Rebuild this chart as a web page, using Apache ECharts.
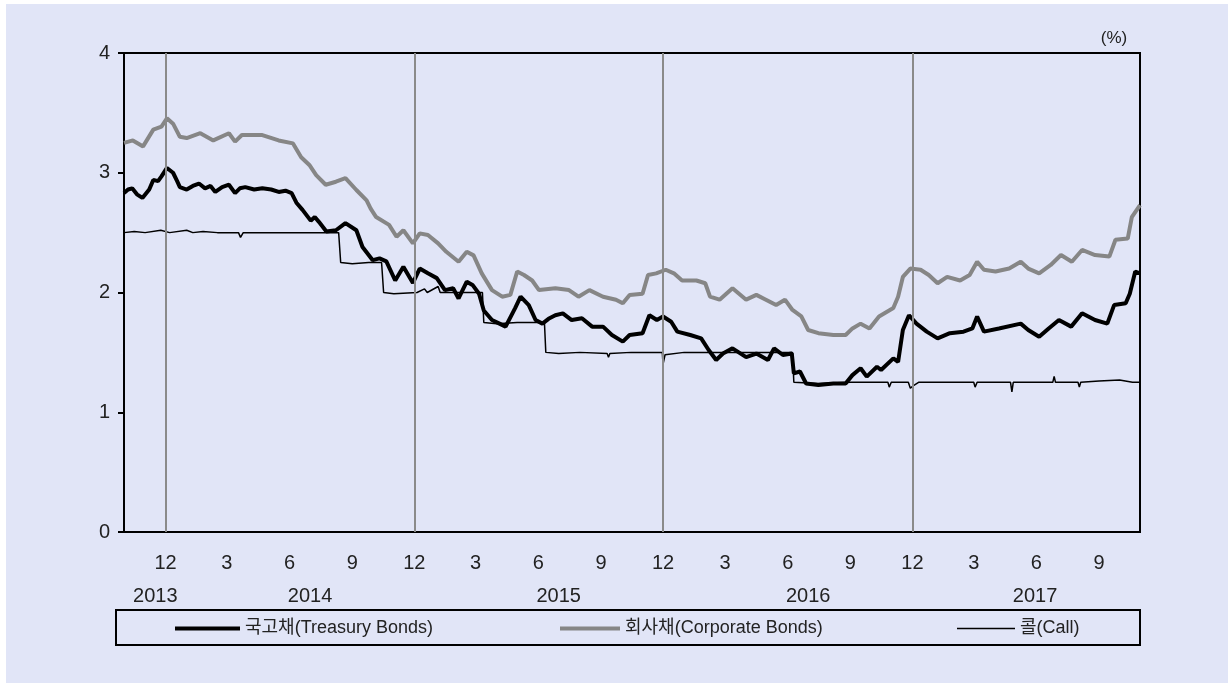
<!DOCTYPE html>
<html><head><meta charset="utf-8">
<script src="https://cdn.jsdelivr.net/npm/echarts@6/dist/echarts.min.js"></script>
<style>html,body{margin:0;padding:0;background:#fff}#c{width:1228px;height:683px}</style>
</head><body><div id="c"></div><script>
const seriesNames = ['국고채(Treasury Bonds)', '회사채(Corporate Bonds)', '콜(Call)'];
const unitLabel = '(%)';
const yTicks = [0, 1, 2, 3, 4];
const xRange = ['2013-10-01', '2017-10-31'];
const monthTickDates = ['2013-12-01','2014-03-01','2014-06-01','2014-09-01','2014-12-01','2015-03-01','2015-06-01','2015-09-01','2015-12-01','2016-03-01','2016-06-01','2016-09-01','2016-12-01','2017-03-01','2017-06-01','2017-09-01'];
const monthTickLabels = ['12','3','6','9','12','3','6','9','12','3','6','9','12','3','6','9'];
const yearLabelDates = ['2013-11-16','2014-07-01','2015-07-01','2016-07-01','2017-05-30'];
const yearLabels = ['2013','2014','2015','2016','2017'];
const decemberLines = ['2013-12-01','2014-12-01','2015-12-01','2016-12-01'];

const treasury = [
['2013-10-01',2.83],['2013-10-07',2.86],['2013-10-13',2.87],['2013-10-20',2.82],['2013-10-28',2.79],['2013-11-07',2.86],['2013-11-13',2.94],['2013-11-20',2.93],['2013-11-25',2.97],
['2013-12-03',3.04],['2013-12-12',3.00],['2013-12-18',2.93],['2013-12-22',2.88],['2014-01-01',2.86],['2014-01-10',2.89],['2014-01-19',2.91],['2014-01-28',2.87],['2014-02-05',2.89],['2014-02-12',2.84],
['2014-02-22',2.88],['2014-03-04',2.90],['2014-03-13',2.83],['2014-03-20',2.87],['2014-03-28',2.88],['2014-04-10',2.86],['2014-04-22',2.87],['2014-05-05',2.86],['2014-05-16',2.84],['2014-05-26',2.85],
['2014-06-04',2.83],['2014-06-11',2.75],['2014-06-20',2.69],['2014-07-02',2.60],['2014-07-08',2.63],['2014-07-14',2.59],['2014-07-25',2.51],['2014-08-08',2.52],['2014-08-22',2.58],['2014-09-07',2.52],
['2014-09-16',2.38],['2014-10-01',2.27],['2014-10-11',2.285],['2014-10-21',2.26],['2014-11-03',2.10],['2014-11-15',2.215],['2014-11-29',2.08],['2014-12-09',2.20],['2014-12-21',2.16],['2015-01-03',2.12],
['2015-01-15',2.02],['2015-01-27',2.035],['2015-02-04',1.95],['2015-02-16',2.09],['2015-02-25',2.06],['2015-03-06',1.99],['2015-03-13',1.85],['2015-03-25',1.77],['2015-04-05',1.74],['2015-04-14',1.715],
['2015-04-28',1.87],['2015-05-06',1.965],['2015-05-18',1.895],['2015-05-28',1.77],['2015-06-07',1.74],['2015-06-16',1.78],['2015-06-26',1.81],['2015-07-07',1.826],['2015-07-20',1.77],['2015-08-04',1.785],
['2015-08-19',1.715],['2015-09-04',1.715],['2015-09-17',1.645],['2015-10-03',1.59],['2015-10-13',1.645],['2015-11-01',1.66],['2015-11-11',1.81],['2015-11-22',1.77],['2015-12-01',1.80],['2015-12-13',1.756],
['2015-12-22',1.673],['2016-01-10',1.645],['2016-01-26',1.617],['2016-02-06',1.52],['2016-02-17',1.436],['2016-02-27',1.49],['2016-03-12',1.534],['2016-04-01',1.46],['2016-04-16',1.49],['2016-05-03',1.436],
['2016-05-12',1.534],['2016-05-25',1.478],['2016-06-07',1.49],['2016-06-10',1.325],['2016-06-19',1.34],['2016-06-28',1.24],['2016-07-16',1.228],['2016-08-07',1.24],['2016-08-25',1.24],['2016-09-04',1.31],
['2016-09-16',1.367],['2016-09-25',1.297],['2016-10-10',1.38],['2016-10-16',1.353],['2016-11-03',1.45],['2016-11-10',1.42],['2016-11-17',1.687],['2016-11-26',1.81],['2016-12-07',1.74],['2016-12-22',1.673],
['2017-01-07',1.617],['2017-01-25',1.66],['2017-02-14',1.673],['2017-02-27',1.70],['2017-03-06',1.80],['2017-03-16',1.673],['2017-04-07',1.70],['2017-05-09',1.74],['2017-05-20',1.687],['2017-06-05',1.63],
['2017-06-19',1.70],['2017-07-04',1.77],['2017-07-22',1.715],['2017-08-07',1.826],['2017-08-26',1.77],['2017-09-13',1.74],['2017-09-23',1.895],['2017-10-10',1.91],['2017-10-16',1.99],['2017-10-24',2.175],['2017-10-31',2.16]
];

const corporate = [
['2013-10-01',3.25],['2013-10-14',3.27],['2013-10-29',3.22],['2013-11-13',3.36],['2013-11-25',3.385],['2013-12-03',3.455],['2013-12-12',3.41],['2013-12-22',3.30],['2014-01-01',3.29],['2014-01-21',3.33],
['2014-02-09',3.27],['2014-03-04',3.33],['2014-03-13',3.26],['2014-03-23',3.315],['2014-04-22',3.315],['2014-05-16',3.27],['2014-06-06',3.245],['2014-06-18',3.13],['2014-06-30',3.065],['2014-07-10',2.98],
['2014-07-24',2.90],['2014-08-08',2.925],['2014-08-22',2.955],['2014-09-07',2.856],['2014-09-22',2.77],['2014-09-28',2.70],['2014-10-06',2.63],['2014-10-25',2.565],['2014-11-05',2.466],['2014-11-15',2.52],
['2014-11-29',2.41],['2014-12-09',2.494],['2014-12-21',2.48],['2015-01-05',2.41],['2015-01-17',2.34],['2015-02-04',2.257],['2015-02-16',2.34],['2015-02-26',2.31],['2015-03-10',2.16],['2015-03-25',2.02],
['2015-04-09',1.965],['2015-04-21',1.98],['2015-05-01',2.175],['2015-05-11',2.146],['2015-05-23',2.10],['2015-06-02',2.02],['2015-06-26',2.035],['2015-07-16',2.02],['2015-07-30',1.965],['2015-08-15',2.02],
['2015-09-04',1.965],['2015-09-23',1.94],['2015-10-03',1.91],['2015-10-13',1.98],['2015-11-01',1.99],['2015-11-09',2.146],['2015-11-21',2.16],['2015-12-05',2.19],['2015-12-17',2.16],['2015-12-29',2.10],
['2016-01-19',2.10],['2016-02-01',2.077],['2016-02-08',1.965],['2016-02-22',1.94],['2016-03-12',2.035],['2016-04-01',1.94],['2016-04-16',1.98],['2016-04-30',1.94],['2016-05-15',1.895],['2016-05-28',1.94],
['2016-06-08',1.854],['2016-06-21',1.80],['2016-07-01',1.687],['2016-07-16',1.66],['2016-08-07',1.645],['2016-08-25',1.645],['2016-09-04',1.70],['2016-09-16',1.74],['2016-09-29',1.70],['2016-10-13',1.80],
['2016-11-03',1.87],['2016-11-10',1.965],['2016-11-17',2.13],['2016-11-28',2.20],['2016-12-13',2.19],['2016-12-25',2.146],['2017-01-07',2.077],['2017-01-21',2.13],['2017-02-09',2.10],['2017-02-23',2.146],
['2017-03-06',2.257],['2017-03-16',2.19],['2017-04-02',2.175],['2017-04-22',2.20],['2017-05-09',2.257],['2017-05-20',2.20],['2017-06-05',2.16],['2017-06-22',2.23],['2017-07-07',2.313],['2017-07-23',2.257],
['2017-08-07',2.355],['2017-08-26',2.313],['2017-09-16',2.30],['2017-09-25',2.44],['2017-10-13',2.45],['2017-10-19',2.63],['2017-10-31',2.73]
];

const call = [
['2013-10-01',2.50],['2013-10-16',2.51],['2013-11-01',2.50],['2013-11-24',2.52],['2013-12-07',2.50],['2014-01-01',2.52],['2014-01-10',2.50],['2014-01-25',2.51],['2014-02-15',2.50],['2014-03-18',2.50],
['2014-03-21',2.46],['2014-03-25',2.50],['2014-05-01',2.50],['2014-07-01',2.50],['2014-08-12',2.50],['2014-08-15',2.25],['2014-09-01',2.24],['2014-09-25',2.25],['2014-10-14',2.25],['2014-10-17',2.00],
['2014-11-01',1.99],['2014-12-05',2.00],['2014-12-16',2.03],['2014-12-20',2.00],['2015-01-05',2.05],['2015-01-08',2.00],['2015-02-01',2.00],['2015-03-11',2.00],['2015-03-13',1.75],['2015-04-01',1.74],
['2015-05-01',1.75],['2015-06-10',1.75],['2015-06-12',1.50],['2015-07-01',1.49],['2015-08-01',1.50],['2015-09-10',1.49],['2015-09-12',1.46],['2015-09-14',1.49],['2015-10-15',1.50],['2015-11-30',1.50],
['2015-12-01',1.40],['2015-12-04',1.48],['2016-01-01',1.50],['2016-03-01',1.50],['2016-06-08',1.50],['2016-06-10',1.25],['2016-07-15',1.24],['2016-09-01',1.25],['2016-10-26',1.25],['2016-10-28',1.21],
['2016-10-31',1.25],['2016-11-25',1.25],['2016-11-28',1.20],['2016-12-02',1.22],['2016-12-10',1.25],['2017-03-01',1.25],['2017-03-03',1.21],['2017-03-06',1.25],['2017-04-24',1.25],['2017-04-26',1.17],
['2017-04-28',1.25],['2017-06-25',1.25],['2017-06-27',1.30],['2017-06-29',1.25],['2017-08-01',1.25],['2017-08-03',1.21],['2017-08-05',1.25],['2017-09-01',1.26],['2017-10-01',1.27],['2017-10-20',1.25],['2017-10-31',1.25]
];

function ts(s) { const p = s.split('-').map(Number); return Date.UTC(p[0], p[1] - 1, p[2]); }
const toPts = arr => arr.map(d => [ts(d[0]), d[1]]);
const monthMap = {}; monthTickDates.forEach((d, i) => { monthMap[ts(d)] = monthTickLabels[i]; });
const yearMap = {}; yearLabelDates.forEach((d, i) => { yearMap[ts(d)] = yearLabels[i]; });

const FONT = '"Liberation Sans", "Noto Sans CJK KR", sans-serif';
const TXT = '#222';
const chart = echarts.init(document.getElementById('c'), null, { renderer: 'canvas' });

function legendFor(name, left, w, lw, color) {
  return {
    data: [name], left: left, top: 619.5, padding: 0, itemWidth: w, itemHeight: lw,
    icon: 'rect', itemStyle: { color: color, borderWidth: 0 },
    selectedMode: false,
    textStyle: { fontFamily: FONT, fontSize: 18, color: TXT }
  };
}

chart.setOption({
  animation: false,
  backgroundColor: '#ffffff',
  textStyle: { fontFamily: FONT },
  graphic: [
    { type: 'rect', z: -10, shape: { x: 6, y: 4, width: 1222, height: 679 }, style: { fill: '#e1e5f7' }, silent: true },
    { type: 'rect', z: 10, shape: { x: 116, y: 610, width: 1024, height: 35 }, style: { fill: 'none', stroke: '#000', lineWidth: 2 }, silent: true },
    { type: 'text', z: 10, x: 1114, y: 38, style: { text: unitLabel, fontFamily: FONT, fontSize: 17, fill: TXT, align: 'center', verticalAlign: 'middle' }, silent: true }
  ],
  grid: { left: 124, right: 88, top: 53, bottom: 151, show: true, borderColor: '#000', borderWidth: 2, backgroundColor: 'transparent' },
  legend: [
    legendFor(seriesNames[0], 175, 65, 4, '#000'),
    legendFor(seriesNames[1], 560, 60, 4, '#868686'),
    legendFor(seriesNames[2], 957, 58, 1.5, '#000')
  ],
  xAxis: [
    {
      type: 'value', min: ts(xRange[0]), max: ts(xRange[1]),
      axisLine: { show: true, lineStyle: { color: '#000', width: 2 } },
      axisTick: { show: false }, splitLine: { show: false },
      axisLabel: { customValues: monthTickDates.map(ts), formatter: v => monthMap[v] || '', fontSize: 20, color: TXT, margin: 21, fontFamily: FONT }
    },
    {
      type: 'value', min: ts(xRange[0]), max: ts(xRange[1]), gridIndex: 0, position: 'bottom', offset: 33,
      axisLine: { show: false }, axisTick: { show: false }, splitLine: { show: false },
      axisLabel: { customValues: yearLabelDates.map(ts), formatter: v => yearMap[v] || '', fontSize: 20, color: TXT, margin: 21, fontFamily: FONT }
    }
  ],
  yAxis: {
    type: 'value', min: yTicks[0], max: yTicks[yTicks.length - 1], interval: 1,
    axisLine: { show: true, lineStyle: { color: '#000', width: 2 } },
    axisTick: { show: true, length: 6, lineStyle: { color: '#000', width: 2 } },
    splitLine: { show: false },
    axisLabel: { fontSize: 20, color: TXT, margin: 14, fontFamily: FONT }
  },
  series: [
    { name: seriesNames[1], type: 'line', data: toPts(corporate), showSymbol: false, symbol: 'none', z: 2,
      lineStyle: { color: '#868686', width: 4 }, itemStyle: { color: '#868686' },
      markLine: { silent: true, symbol: ['none', 'none'], label: { show: false }, animation: false,
        lineStyle: { color: '#8a8a8a', width: 2, type: 'solid' },
        data: decemberLines.map(d => ({ xAxis: ts(d) })) } },
    { name: seriesNames[0], type: 'line', data: toPts(treasury), showSymbol: false, symbol: 'none', z: 3,
      lineStyle: { color: '#000', width: 4 }, itemStyle: { color: '#000' } },
    { name: seriesNames[2], type: 'line', data: toPts(call), showSymbol: false, symbol: 'none', z: 4,
      lineStyle: { color: '#000', width: 1.5 }, itemStyle: { color: '#000' } }
  ]
});
</script></body></html>
